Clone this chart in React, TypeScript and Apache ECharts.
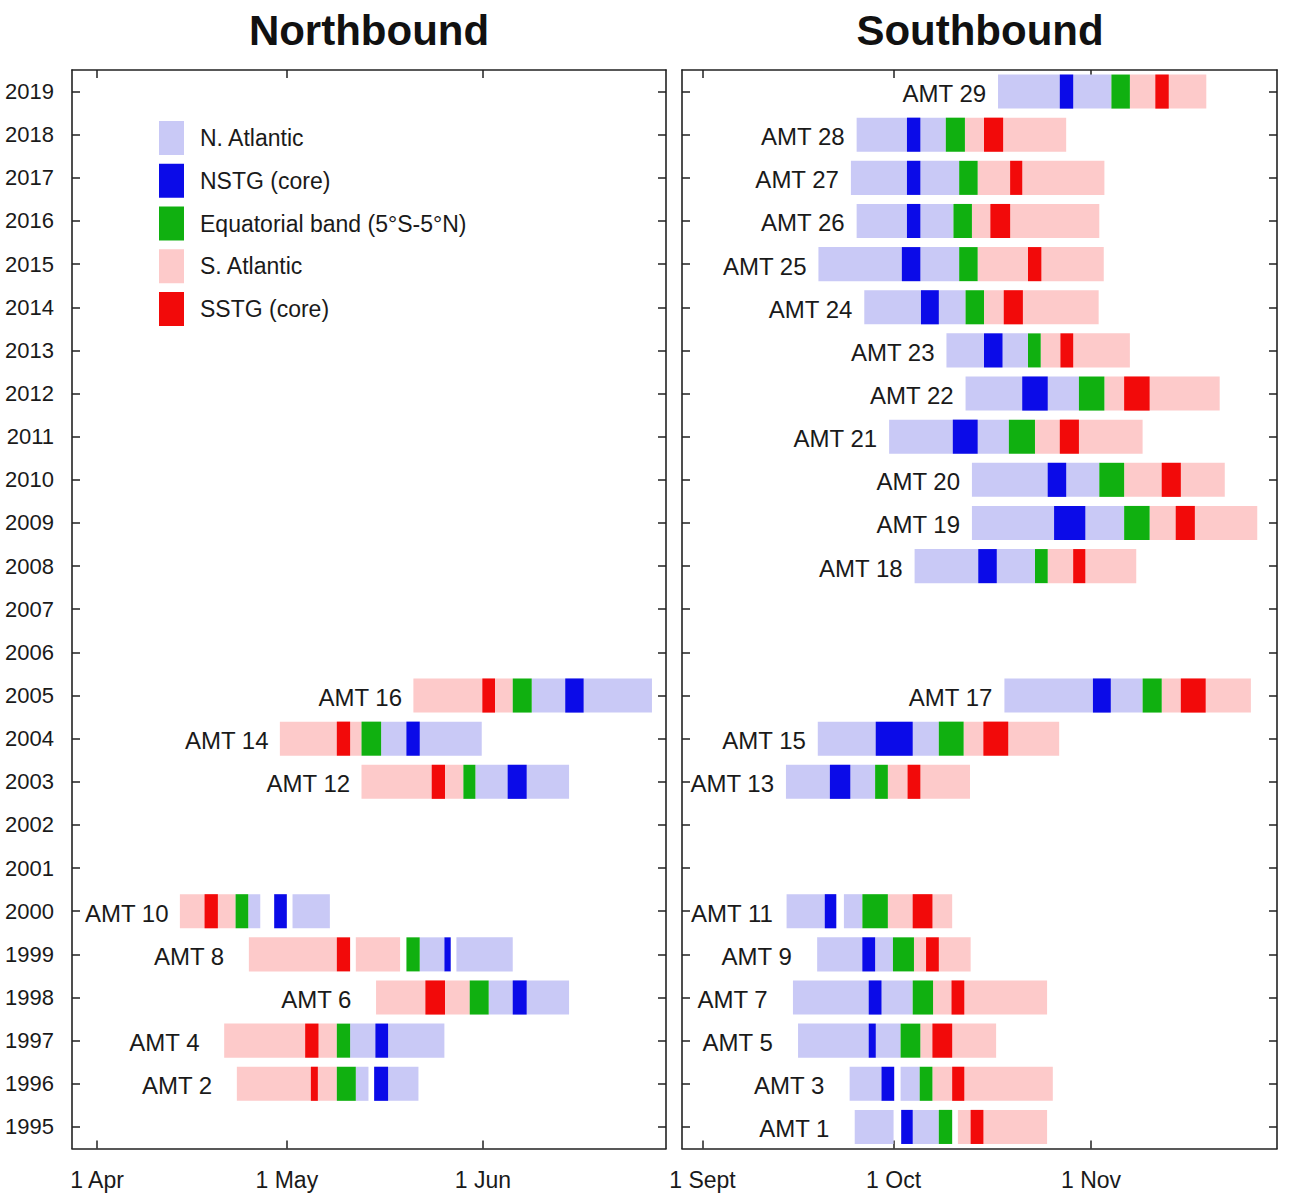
import React, { useEffect, useRef } from "react";
import * as echarts from "echarts";

// ---------- categories / tick labels ----------
const yearLabels = [
  "1995", "1996", "1997", "1998", "1999", "2000", "2001", "2002", "2003", "2004", "2005", "2006", "2007",
  "2008", "2009", "2010", "2011", "2012", "2013", "2014", "2015", "2016", "2017", "2018", "2019",
];
const monthTickDays = [0, 30, 61];
const nbMonthLabels = ["1 Apr", "1 May", "1 Jun"];
const sbMonthLabels = ["1 Sept", "1 Oct", "1 Nov"];
const legendNames = ["N. Atlantic", "NSTG (core)", "Equatorial band (5°S-5°N)", "S. Atlantic", "SSTG (core)"];

// ---------- Northbound (days after 1 April) : [year, start, end] ----------
const nbNames = ["AMT 2", "AMT 4", "AMT 6", "AMT 8", "AMT 10", "AMT 12", "AMT 14", "AMT 16"];
const nbYears = [1996, 1997, 1998, 1999, 2000, 2003, 2004, 2005];
const nbSAtlantic = [
  [1996, 22.1, 37.9], [1997, 20.1, 37.9], [1998, 44.1, 58.9], [1999, 24.0, 37.9], [1999, 40.9, 47.9],
  [2000, 13.1, 21.9], [2003, 41.8, 57.9], [2004, 28.9, 41.8], [2005, 50.0, 65.7],
];
const nbSSTG = [
  [1996, 33.8, 34.9], [1997, 32.9, 35.0], [1998, 51.9, 55.0], [1999, 37.9, 40.0],
  [2000, 17.0, 19.1], [2003, 52.9, 55.0], [2004, 37.9, 40.0], [2005, 60.9, 62.9],
];
const nbEquatorial = [
  [1996, 37.9, 40.9], [1997, 37.9, 40.0], [1998, 58.9, 61.9], [1999, 48.9, 51.0],
  [2000, 21.9, 23.9], [2003, 57.9, 59.8], [2004, 41.8, 44.9], [2005, 65.7, 68.7],
];
const nbNAtlantic = [
  [1996, 40.9, 42.9], [1996, 43.8, 50.8], [1997, 40.0, 54.9], [1998, 61.9, 74.6], [1999, 51.0, 54.9],
  [1999, 56.8, 65.7], [2000, 23.9, 25.8], [2000, 30.9, 36.8], [2003, 59.8, 74.6], [2004, 44.9, 60.8],
  [2005, 68.7, 87.7],
];
const nbNSTG = [
  [1996, 43.8, 46.0], [1997, 44.0, 46.0], [1998, 65.7, 67.9], [1999, 54.9, 55.9],
  [2000, 28.0, 30.0], [2003, 64.9, 67.9], [2004, 48.9, 51.0], [2005, 74.0, 76.9],
];

// ---------- Southbound (days after 1 September) : [year, start, end] ----------
const sbNames = [
  "AMT 1", "AMT 3", "AMT 5", "AMT 7", "AMT 9", "AMT 11", "AMT 13", "AMT 15", "AMT 17", "AMT 18", "AMT 19",
  "AMT 20", "AMT 21", "AMT 22", "AMT 23", "AMT 24", "AMT 25", "AMT 26", "AMT 27", "AMT 28", "AMT 29",
];
const sbYears = [
  1995, 1996, 1997, 1998, 1999, 2000, 2003, 2004, 2005, 2008, 2009,
  2010, 2011, 2012, 2013, 2014, 2015, 2016, 2017, 2018, 2019,
];
const sbNAtlantic = [
  [1995, 23.9, 30.0], [1995, 31.2, 37.1], [1996, 23.1, 28.1], [1996, 31.1, 34.1], [1997, 15.0, 31.1],
  [1998, 14.2, 33.0], [1999, 18.0, 29.9], [2000, 13.2, 21.0], [2000, 22.2, 25.1], [2003, 13.1, 27.1],
  [2004, 18.1, 37.1], [2005, 47.4, 69.1], [2008, 33.3, 52.2], [2009, 42.3, 66.2], [2010, 42.3, 62.3],
  [2011, 29.3, 48.1], [2012, 41.3, 59.1], [2013, 38.3, 51.1], [2014, 25.4, 41.3], [2015, 18.2, 40.3],
  [2016, 24.2, 39.4], [2017, 23.3, 40.3], [2018, 24.2, 38.2], [2019, 46.4, 64.2],
];
const sbNSTG = [
  [1995, 31.2, 33.0], [1996, 28.1, 30.1], [1997, 26.1, 27.2], [1998, 26.1, 28.1], [1999, 25.1, 27.1],
  [2000, 19.2, 21.0], [2003, 20.0, 23.2], [2004, 27.2, 33.0], [2005, 61.3, 64.1], [2008, 43.3, 46.2],
  [2009, 55.2, 60.1], [2010, 54.2, 57.1], [2011, 39.3, 43.2], [2012, 50.2, 54.2], [2013, 44.2, 47.1],
  [2014, 34.3, 37.1], [2015, 31.3, 34.2], [2016, 32.1, 34.2], [2017, 32.1, 34.2], [2018, 32.1, 34.2],
  [2019, 56.1, 58.2],
];
const sbEquatorial = [
  [1995, 37.1, 39.2], [1996, 34.1, 36.1], [1997, 31.1, 34.2], [1998, 33.0, 36.2], [1999, 29.9, 33.2],
  [2000, 25.1, 29.1], [2003, 27.1, 29.1], [2004, 37.1, 41.0], [2005, 69.1, 72.1], [2008, 52.2, 54.2],
  [2009, 66.2, 70.2], [2010, 62.3, 66.2], [2011, 48.1, 52.2], [2012, 59.1, 63.1], [2013, 51.1, 53.1],
  [2014, 41.3, 44.2], [2015, 40.3, 43.2], [2016, 39.4, 42.3], [2017, 40.3, 43.2], [2018, 38.2, 41.2],
  [2019, 64.2, 67.1],
];
const sbSAtlantic = [
  [1995, 40.1, 54.1], [1996, 36.1, 55.0], [1997, 34.2, 46.1], [1998, 36.2, 54.1], [1999, 33.2, 42.1],
  [2000, 29.1, 39.2], [2003, 29.1, 42.0], [2004, 41.0, 56.0], [2005, 72.1, 86.1], [2008, 54.2, 68.1],
  [2009, 70.2, 87.1], [2010, 66.2, 82.0], [2011, 52.2, 69.1], [2012, 63.1, 81.2], [2013, 53.1, 67.1],
  [2014, 44.2, 62.2], [2015, 43.2, 63.0], [2016, 42.3, 62.3], [2017, 43.2, 63.1], [2018, 41.2, 57.1],
  [2019, 67.1, 79.1],
];
const sbSSTG = [
  [1995, 42.1, 44.1], [1996, 39.2, 41.1], [1997, 36.1, 39.2], [1998, 39.1, 41.1], [1999, 35.1, 37.1],
  [2000, 33.0, 36.1], [2003, 32.2, 34.2], [2004, 44.1, 48.0], [2005, 75.1, 79.0], [2008, 58.2, 60.1],
  [2009, 74.3, 77.3], [2010, 72.1, 75.1], [2011, 56.1, 59.1], [2012, 66.2, 70.2], [2013, 56.2, 58.2],
  [2014, 47.3, 50.3], [2015, 51.1, 53.2], [2016, 45.2, 48.3], [2017, 48.3, 50.2], [2018, 44.2, 47.2],
  [2019, 71.1, 73.2],
];

// ---------- styles ----------
const C_NA = "#c9c9f6";
const C_NSTG = "#0b0be8";
const C_EQ = "#10b010";
const C_SA = "#fdcaca";
const C_SSTG = "#f20a0a";
const FONT = '"Liberation Sans", Arial, Helvetica, sans-serif';
const INK = "#1a1a1a";
const BAR_FRAC = 0.79;
const LABEL_OFFSET_DAYS = 15;

const yIdx = (y: number) => yearLabels.indexOf(String(y));

function segSeries(name: string, color: string, rows: number[][], axis: number) {
  return {
    type: "custom",
    name,
    xAxisIndex: axis,
    yAxisIndex: axis,
    itemStyle: { color },
    encode: { x: [0, 1], y: 2 },
    data: rows.map((r) => [r[1], r[2], yIdx(r[0])]),
    renderItem: (params: any, api: any) => {
      const yi = api.value(2);
      const a = api.coord([api.value(0), yi]);
      const b = api.coord([api.value(1), yi]);
      const h = api.size([0, 1])[1] * BAR_FRAC;
      return {
        type: "rect",
        shape: { x: a[0], y: a[1] - h / 2, width: b[0] - a[0], height: h },
        style: { fill: color },
      };
    },
  };
}

function labelSeries(names: string[], years: number[], all: number[][][], axis: number) {
  const data = years.map((y) => {
    let s = Infinity;
    all.forEach((rows) => rows.forEach((r) => { if (r[0] === y && r[1] < s) s = r[1]; }));
    return [s - LABEL_OFFSET_DAYS, yIdx(y)];
  });
  return {
    type: "custom",
    name: "labels" + axis,
    xAxisIndex: axis,
    yAxisIndex: axis,
    encode: { x: 0, y: 1 },
    data,
    renderItem: (params: any, api: any) => {
      const p = api.coord([api.value(0), api.value(1)]);
      return {
        type: "text",
        x: p[0],
        y: p[1] + 2,
        style: {
          text: names[params.dataIndex],
          fill: INK,
          font: `24px ${FONT}`,
          align: "left",
          verticalAlign: "middle",
        },
      };
    },
  };
}

const axisLine = { show: true, onZero: false, lineStyle: { color: "#222", width: 1.6 } };
const tickStyle = { show: true, inside: true, length: 8, lineStyle: { color: "#222", width: 1.5 } };

function xAxes(min: number, max: number, labels: string[], grid: number) {
  return [
    {
      type: "value", gridIndex: grid, position: "bottom", min, max,
      axisLine, splitLine: { show: false },
      axisTick: { ...tickStyle, customValues: monthTickDays },
      axisLabel: {
        customValues: monthTickDays,
        formatter: (v: number) => labels[monthTickDays.indexOf(v)] ?? "",
        fontSize: 23, color: INK, fontFamily: FONT, margin: 20,
      },
    },
    {
      type: "value", gridIndex: grid, position: "top", min, max,
      axisLine, splitLine: { show: false },
      axisTick: { ...tickStyle, customValues: monthTickDays },
      axisLabel: { show: false },
    },
  ];
}

function yAxes(grid: number, showLabels: boolean) {
  return [
    {
      type: "category", gridIndex: grid, position: "left", data: yearLabels,
      axisLine, splitLine: { show: false },
      axisTick: { ...tickStyle, alignWithLabel: true, interval: 0 },
      axisLabel: { show: showLabels, interval: 0, fontSize: 22, color: INK, fontFamily: FONT, margin: 18 },
    },
    {
      type: "category", gridIndex: grid, position: "right", data: yearLabels,
      axisLine, splitLine: { show: false },
      axisTick: { ...tickStyle, alignWithLabel: true, interval: 0 },
      axisLabel: { show: false },
    },
  ];
}

export default function App() {
  const ref = useRef<HTMLDivElement>(null);
  useEffect(() => {
    if (!ref.current) return;
    const chart = echarts.init(ref.current, undefined, { renderer: "svg" });
    const nbAll = [nbNAtlantic, nbNSTG, nbEquatorial, nbSAtlantic, nbSSTG];
    const sbAll = [sbNAtlantic, sbNSTG, sbEquatorial, sbSAtlantic, sbSSTG];
    chart.setOption({
      animation: false,
      backgroundColor: "#ffffff",
      grid: [
        { left: 72, top: 70, width: 594, height: 1078.5 },
        { left: 682, top: 70, width: 595, height: 1078.5 },
      ],
      xAxis: [...xAxes(-3.95, 89.92, nbMonthLabels, 0), ...xAxes(-3.22, 90.2, sbMonthLabels, 1)],
      yAxis: [...yAxes(0, true), ...yAxes(1, false)],
      legend: {
        data: legendNames,
        orient: "vertical",
        left: 154,
        top: 116,
        itemWidth: 25,
        itemHeight: 34,
        itemGap: 8.75,
        icon: "rect",
        selectedMode: false,
        textStyle: { fontSize: 23, color: INK, fontFamily: FONT, padding: [0, 0, 0, 11] },
      },
      graphic: [
        {
          type: "text", x: 369, y: 30,
          style: { text: "Northbound", font: `bold 42px ${FONT}`, fill: "#111", align: "center", verticalAlign: "middle" },
        },
        {
          type: "text", x: 980, y: 30,
          style: { text: "Southbound", font: `bold 42px ${FONT}`, fill: "#111", align: "center", verticalAlign: "middle" },
        },
      ],
      series: [
        segSeries(legendNames[0], C_NA, nbNAtlantic, 0),
        segSeries(legendNames[3], C_SA, nbSAtlantic, 0),
        segSeries(legendNames[2], C_EQ, nbEquatorial, 0),
        segSeries(legendNames[1], C_NSTG, nbNSTG, 0),
        segSeries(legendNames[4], C_SSTG, nbSSTG, 0),
        labelSeries(nbNames, nbYears, nbAll, 0),
        segSeries(legendNames[0], C_NA, sbNAtlantic, 2),
        segSeries(legendNames[3], C_SA, sbSAtlantic, 2),
        segSeries(legendNames[2], C_EQ, sbEquatorial, 2),
        segSeries(legendNames[1], C_NSTG, sbNSTG, 2),
        segSeries(legendNames[4], C_SSTG, sbSSTG, 2),
        labelSeries(sbNames, sbYears, sbAll, 2),
      ],
    });
    return () => chart.dispose();
  }, []);
  return (
    <div
      ref={ref}
      style={{ position: "fixed", left: 0, top: 0, width: 1299, height: 1204, background: "#fff" }}
    />
  );
}
